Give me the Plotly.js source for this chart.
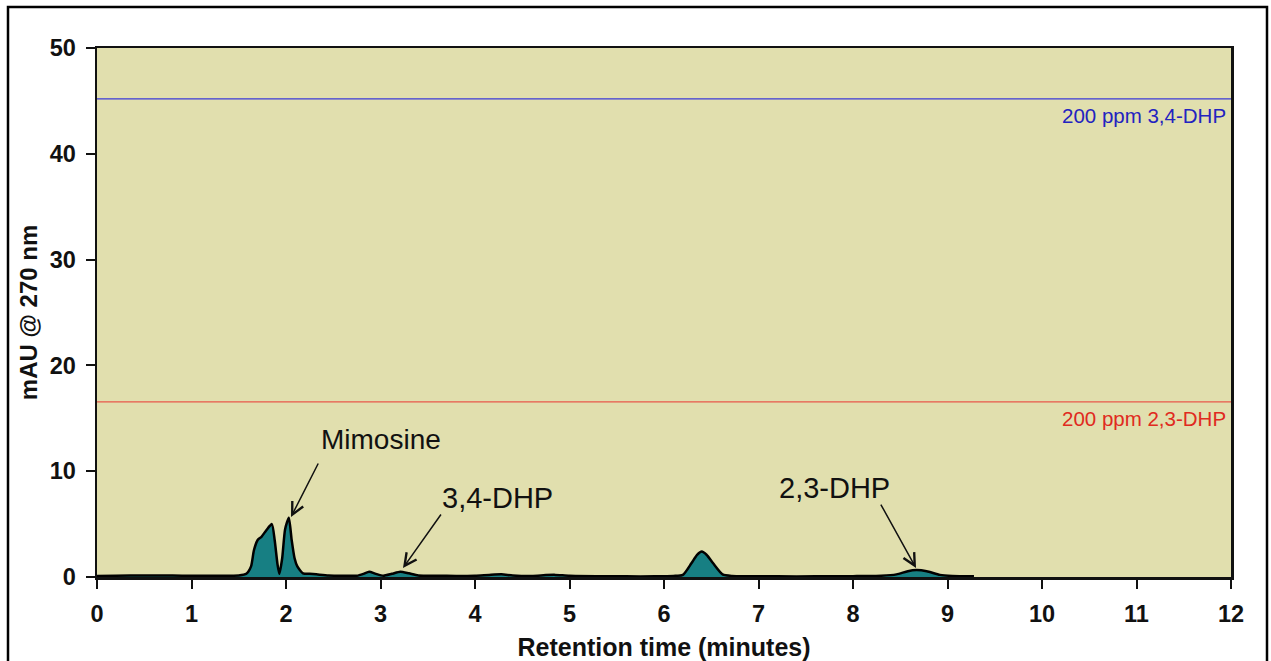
<!DOCTYPE html>
<html>
<head>
<meta charset="utf-8">
<script src="https://cdn.plot.ly/plotly-3.0.1.min.js"></script>
<style>
  html, body { margin: 0; padding: 0; background: #ffffff; }
  #chart { width: 1271px; height: 661px; }
</style>
</head>
<body>
<div id="chart"></div>
<script>
// Chromatogram (retention time in minutes, absorbance in mAU)
const retentionTime = [0, 0.2, 0.5, 0.8, 1.0, 1.3, 1.5, 1.58, 1.63, 1.66, 1.70, 1.74, 1.79, 1.85, 1.88, 1.91, 1.93, 1.96, 1.99, 2.03, 2.06, 2.09, 2.12, 2.18, 2.25, 2.32, 2.45, 2.6, 2.75, 2.82, 2.88, 2.95, 3.03, 3.12, 3.21, 3.3, 3.4, 3.6, 3.8, 4.0, 4.15, 4.28, 4.4, 4.6, 4.75, 4.85, 5.0, 5.3, 5.6, 5.9, 6.1, 6.2, 6.29, 6.35, 6.40, 6.45, 6.52, 6.62, 6.72, 6.9, 7.2, 7.6, 8.0, 8.3, 8.46, 8.58, 8.67, 8.78, 8.92, 9.05, 9.28];
const absorbance    = [0.1, 0.12, 0.15, 0.13, 0.12, 0.12, 0.15, 0.3, 1.0, 2.5, 3.5, 3.8, 4.4, 5.0, 3.5, 1.2, 0.3, 1.8, 4.5, 5.6, 3.5, 1.8, 1.0, 0.35, 0.3, 0.25, 0.15, 0.12, 0.12, 0.3, 0.5, 0.3, 0.12, 0.3, 0.5, 0.35, 0.15, 0.12, 0.1, 0.12, 0.2, 0.25, 0.15, 0.1, 0.18, 0.2, 0.12, 0.08, 0.06, 0.06, 0.1, 0.2, 1.3, 2.1, 2.4, 2.1, 1.3, 0.25, 0.1, 0.08, 0.06, 0.06, 0.08, 0.12, 0.25, 0.55, 0.65, 0.55, 0.2, 0.1, 0.06];

// Reference levels of 200 ppm standards
const standardNames  = ["200 ppm 3,4-DHP", "200 ppm 2,3-DHP"];
const standardLevels = [45.2, 16.55];
const standardColors = ["#3a3ad8", "#e8584a"];
const standardTextColors = ["#2323c0", "#e02a20"];

// Peak labels: text, text position, arrow tail, arrow head
const peakNames  = ["Mimosine", "3,4-DHP", "2,3-DHP"];
const peakTextX  = [3.005, 4.243, 7.80];
const peakTextY  = [12.95, 7.47, 8.41];
const arrowTailX = [2.349, 3.651, 8.286];
const arrowTailY = [10.87, 6.05, 6.99];
const arrowHeadX = [2.053, 3.238, 8.667];
const arrowHeadY = [5.67, 0.85, 0.85];

const xTicks = [0, 1, 2, 3, 4, 5, 6, 7, 8, 9, 10, 11, 12];
const yTicks = [0, 10, 20, 30, 40, 50];

const FONT = "Liberation Sans, Arial, Helvetica, sans-serif";

const traces = [];
standardLevels.forEach((lvl, i) => {
  traces.push({
    x: [0, 12], y: [lvl, lvl], type: "scatter", mode: "lines",
    line: { color: standardColors[i], width: 1.2 },
    hoverinfo: "skip", showlegend: false
  });
});
traces.push({
  x: retentionTime, y: absorbance, type: "scatter", mode: "lines",
  fill: "tozeroy", fillcolor: "#177f83",
  line: { color: "#000000", width: 2.5, shape: "spline", smoothing: 0.6 },
  showlegend: false
});

const annotations = [];
standardNames.forEach((name, i) => {
  annotations.push({
    x: 11.97, y: standardLevels[i], xref: "x", yref: "y",
    text: name, showarrow: false, xanchor: "right", yanchor: "top", yshift: -3,
    font: { family: FONT, size: 20.5, color: standardTextColors[i] }
  });
});
peakNames.forEach((name, i) => {
  annotations.push({
    x: peakTextX[i], y: peakTextY[i], xref: "x", yref: "y",
    text: name, showarrow: false, xanchor: "center", yanchor: "middle",
    font: { family: FONT, size: name === "Mimosine" ? 28 : 29, color: "#111111" }
  });
  annotations.push({
    x: arrowHeadX[i], y: arrowHeadY[i], xref: "x", yref: "y",
    ax: arrowTailX[i], ay: arrowTailY[i], axref: "x", ayref: "y",
    text: "", showarrow: true, arrowhead: 5, arrowsize: 1.6, arrowwidth: 1.5,
    arrowcolor: "#111111", standoff: 0, startstandoff: 0
  });
});

const plotW = 1271 - 97 - 40, plotH = 661 - 48 - 84;
const layout = {
  width: 1271, height: 661,
  margin: { l: 97, r: 40, t: 48, b: 84, pad: 0 },
  paper_bgcolor: "#ffffff",
  plot_bgcolor: "#e1dfae",
  font: { family: FONT, color: "#111111" },
  xaxis: {
    range: [0, 12], tickvals: xTicks, ticktext: xTicks.map(String),
    ticks: "outside", ticklen: 9, tickwidth: 2, tickcolor: "#111111",
    ticklabelstandoff: 5,
    showline: true, linecolor: "#111111", linewidth: 2.5, mirror: true,
    showgrid: false, zeroline: false, fixedrange: true,
    tickfont: { family: FONT, size: 23.5, weight: "bold", color: "#111111" },
    title: { text: "Retention time (minutes)", standoff: 16,
      font: { family: FONT, size: 25, weight: "bold", color: "#111111" } },
    automargin: false
  },
  yaxis: {
    range: [0, 50], tickvals: yTicks, ticktext: yTicks.map(String),
    ticks: "outside", ticklen: 9, tickwidth: 2, tickcolor: "#111111",
    ticklabelstandoff: 5,
    showline: true, linecolor: "#111111", linewidth: 2.5, mirror: true,
    showgrid: false, zeroline: false, fixedrange: true,
    tickfont: { family: FONT, size: 23.5, weight: "bold", color: "#111111" },
    title: { text: "mAU @ 270 nm", standoff: 6,
      font: { family: FONT, size: 24, weight: "bold", color: "#111111" } },
    automargin: false
  },
  annotations: annotations,
  shapes: [{
    type: "rect", xref: "paper", yref: "paper",
    x0: (8 - 97) / plotW, x1: (1267 - 97) / plotW,
    y0: (577 - 670) / plotH, y1: (577 - 7) / plotH,
    line: { color: "#000000", width: 2.5 }, fillcolor: "rgba(0,0,0,0)", layer: "below"
  }]
};

Plotly.newPlot("chart", traces, layout, { staticPlot: true, displayModeBar: false });
</script>
</body>
</html>
